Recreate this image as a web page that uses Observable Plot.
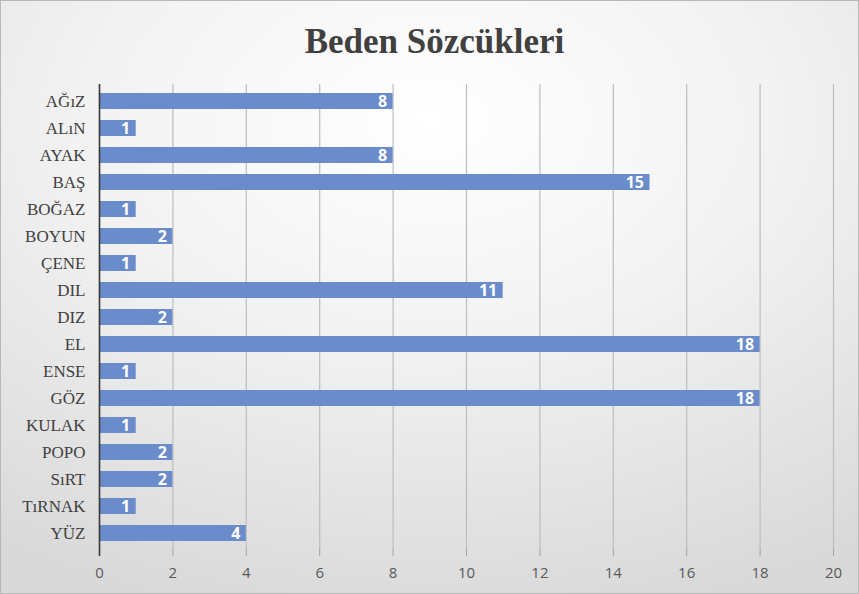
<!DOCTYPE html>
<html>
<head>
<meta charset="utf-8">
<script src="https://cdn.jsdelivr.net/npm/d3@7"></script>
<script src="https://cdn.jsdelivr.net/npm/@observablehq/plot@0.6"></script>
<style>
  html, body { margin: 0; padding: 0; }
  #chart {
    width: 859px; height: 594px; box-sizing: border-box;
    border: 1px solid #b8b8b8;
    background: radial-gradient(ellipse 90% 85% at 50% 20%, #ffffff 0%, #f2f2f2 45%, #d9d9d9 100%);
    overflow: hidden;
  }
  #title {
    height: 71px; line-height: 82px; text-align: center;
    font-family: "Liberation Serif", "DejaVu Serif", serif;
    font-weight: bold; font-size: 35px; color: #404040;
    padding-left: 10px;
  }
  #chart svg { display: block; background: transparent; }
</style>
</head>
<body>
<div id="chart"><div id="title">Beden Sözcükleri</div></div>
<script>
const categories = ["AĞıZ","ALıN","AYAK","BAŞ","BOĞAZ","BOYUN","ÇENE","DIL","DIZ","EL","ENSE","GÖZ","KULAK","POPO","SıRT","TıRNAK","YÜZ"];
const values = [8,1,8,15,1,2,1,11,2,18,1,18,1,2,2,1,4];
const xTicks = [0,2,4,6,8,10,12,14,16,18,20];

const data = categories.map((c, i) => ({cat: c, value: values[i]}));

const plot = Plot.plot({
  width: 857,
  height: 521,
  marginTop: 12,
  marginBottom: 44,
  marginLeft: 98,
  marginRight: 25,
  style: {background: "transparent", overflow: "visible"},
  x: {domain: [0, 20], ticks: xTicks, label: null},
  y: {domain: categories, paddingInner: 0.42, paddingOuter: 0.21, label: null},
  marks: [
    Plot.gridX(xTicks, {stroke: "#bdbdbd", strokeOpacity: 1, strokeWidth: 1.2}),
    Plot.axisX(xTicks, {
      tickSize: 7, tickPadding: 11, stroke: "#a0a0a0",
      fontSize: 15, fill: "#595959",
      fontFamily: "'Open Sans', 'Liberation Sans', sans-serif",
      label: null
    }),
    Plot.axisY({
      tickSize: 0, tickPadding: 14, fontSize: 17, fill: "#404040",
      fontFamily: "'Liberation Serif', 'DejaVu Serif', serif",
      label: null
    }),
    Plot.barX(data, {x: "value", y: "cat", fill: "#6a8cca"}),
    Plot.text(data, {
      x: "value", y: "cat", text: d => String(d.value),
      textAnchor: "end", dx: -6, fill: "white", fontWeight: "bold",
      fontSize: 16, fontFamily: "'Open Sans', 'Liberation Sans', sans-serif"
    }),
    Plot.ruleX([0], {stroke: "#3a3a3a", strokeWidth: 1.6, insetBottom: -7})
  ]
});
document.getElementById("chart").appendChild(plot);
</script>
</body>
</html>
